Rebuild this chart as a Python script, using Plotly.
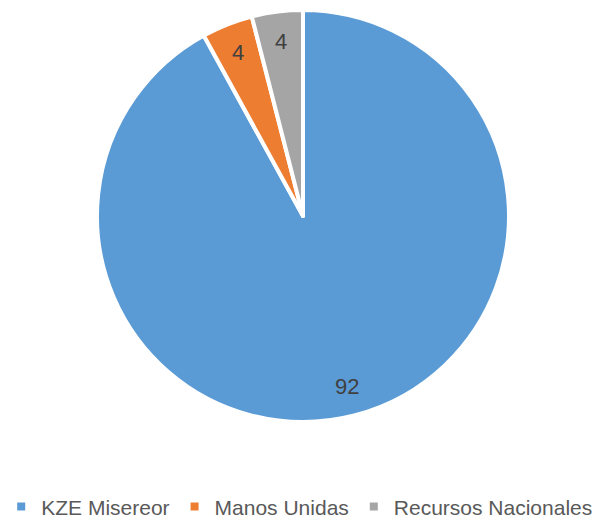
import math
import plotly.graph_objects as go

labels = ["KZE Misereor", "Manos Unidas", "Recursos Nacionales"]
values = [92, 4, 4]
colors = ["#5B9BD5", "#ED7D31", "#A5A5A5"]

W, H = 606, 519
M_T, M_B, M_L, M_R = 10, 97, 0, 0
LABEL_R = 0.855

fig = go.Figure(go.Pie(
    labels=labels,
    values=values,
    sort=False,
    direction="clockwise",
    rotation=0,
    textinfo="none",
    hoverinfo="label+value",
    marker=dict(colors=colors, line=dict(color="white", width=4)),
))

# data labels placed along each slice bisector
plot_w = W - M_L - M_R
plot_h = H - M_T - M_B
radius = min(plot_w, plot_h) / 2
total = sum(values)
cum = 0
annotations = []
for v in values:
    mid = (cum + v / 2) / total
    cum += v
    th = 2 * math.pi * mid
    x = 0.5 + LABEL_R * radius * math.sin(th) / plot_w
    y = 0.5 + LABEL_R * radius * math.cos(th) / plot_h
    annotations.append(dict(
        x=x, y=y, xref="paper", yref="paper", text=str(v), showarrow=False,
        font=dict(family="Liberation Sans, Arial, sans-serif", size=22, color="#404040"),
        xanchor="center", yanchor="middle",
    ))

fig.update_layout(
    width=W, height=H,
    margin=dict(t=M_T, b=M_B, l=M_L, r=M_R, autoexpand=False),
    paper_bgcolor="white",
    plot_bgcolor="white",
    annotations=annotations,
    showlegend=True,
    legend=dict(
        orientation="h", x=0.002, xanchor="left", y=-0.206, yanchor="middle",
        font=dict(family="Liberation Sans, Arial, sans-serif", size=21, color="#595959"),
        itemwidth=30,
    ),
)

fig.write_html(
    "out.html",
    config={"displayModeBar": False},
    post_script="document.body.style.margin='0';document.body.style.overflow='hidden';",
)
